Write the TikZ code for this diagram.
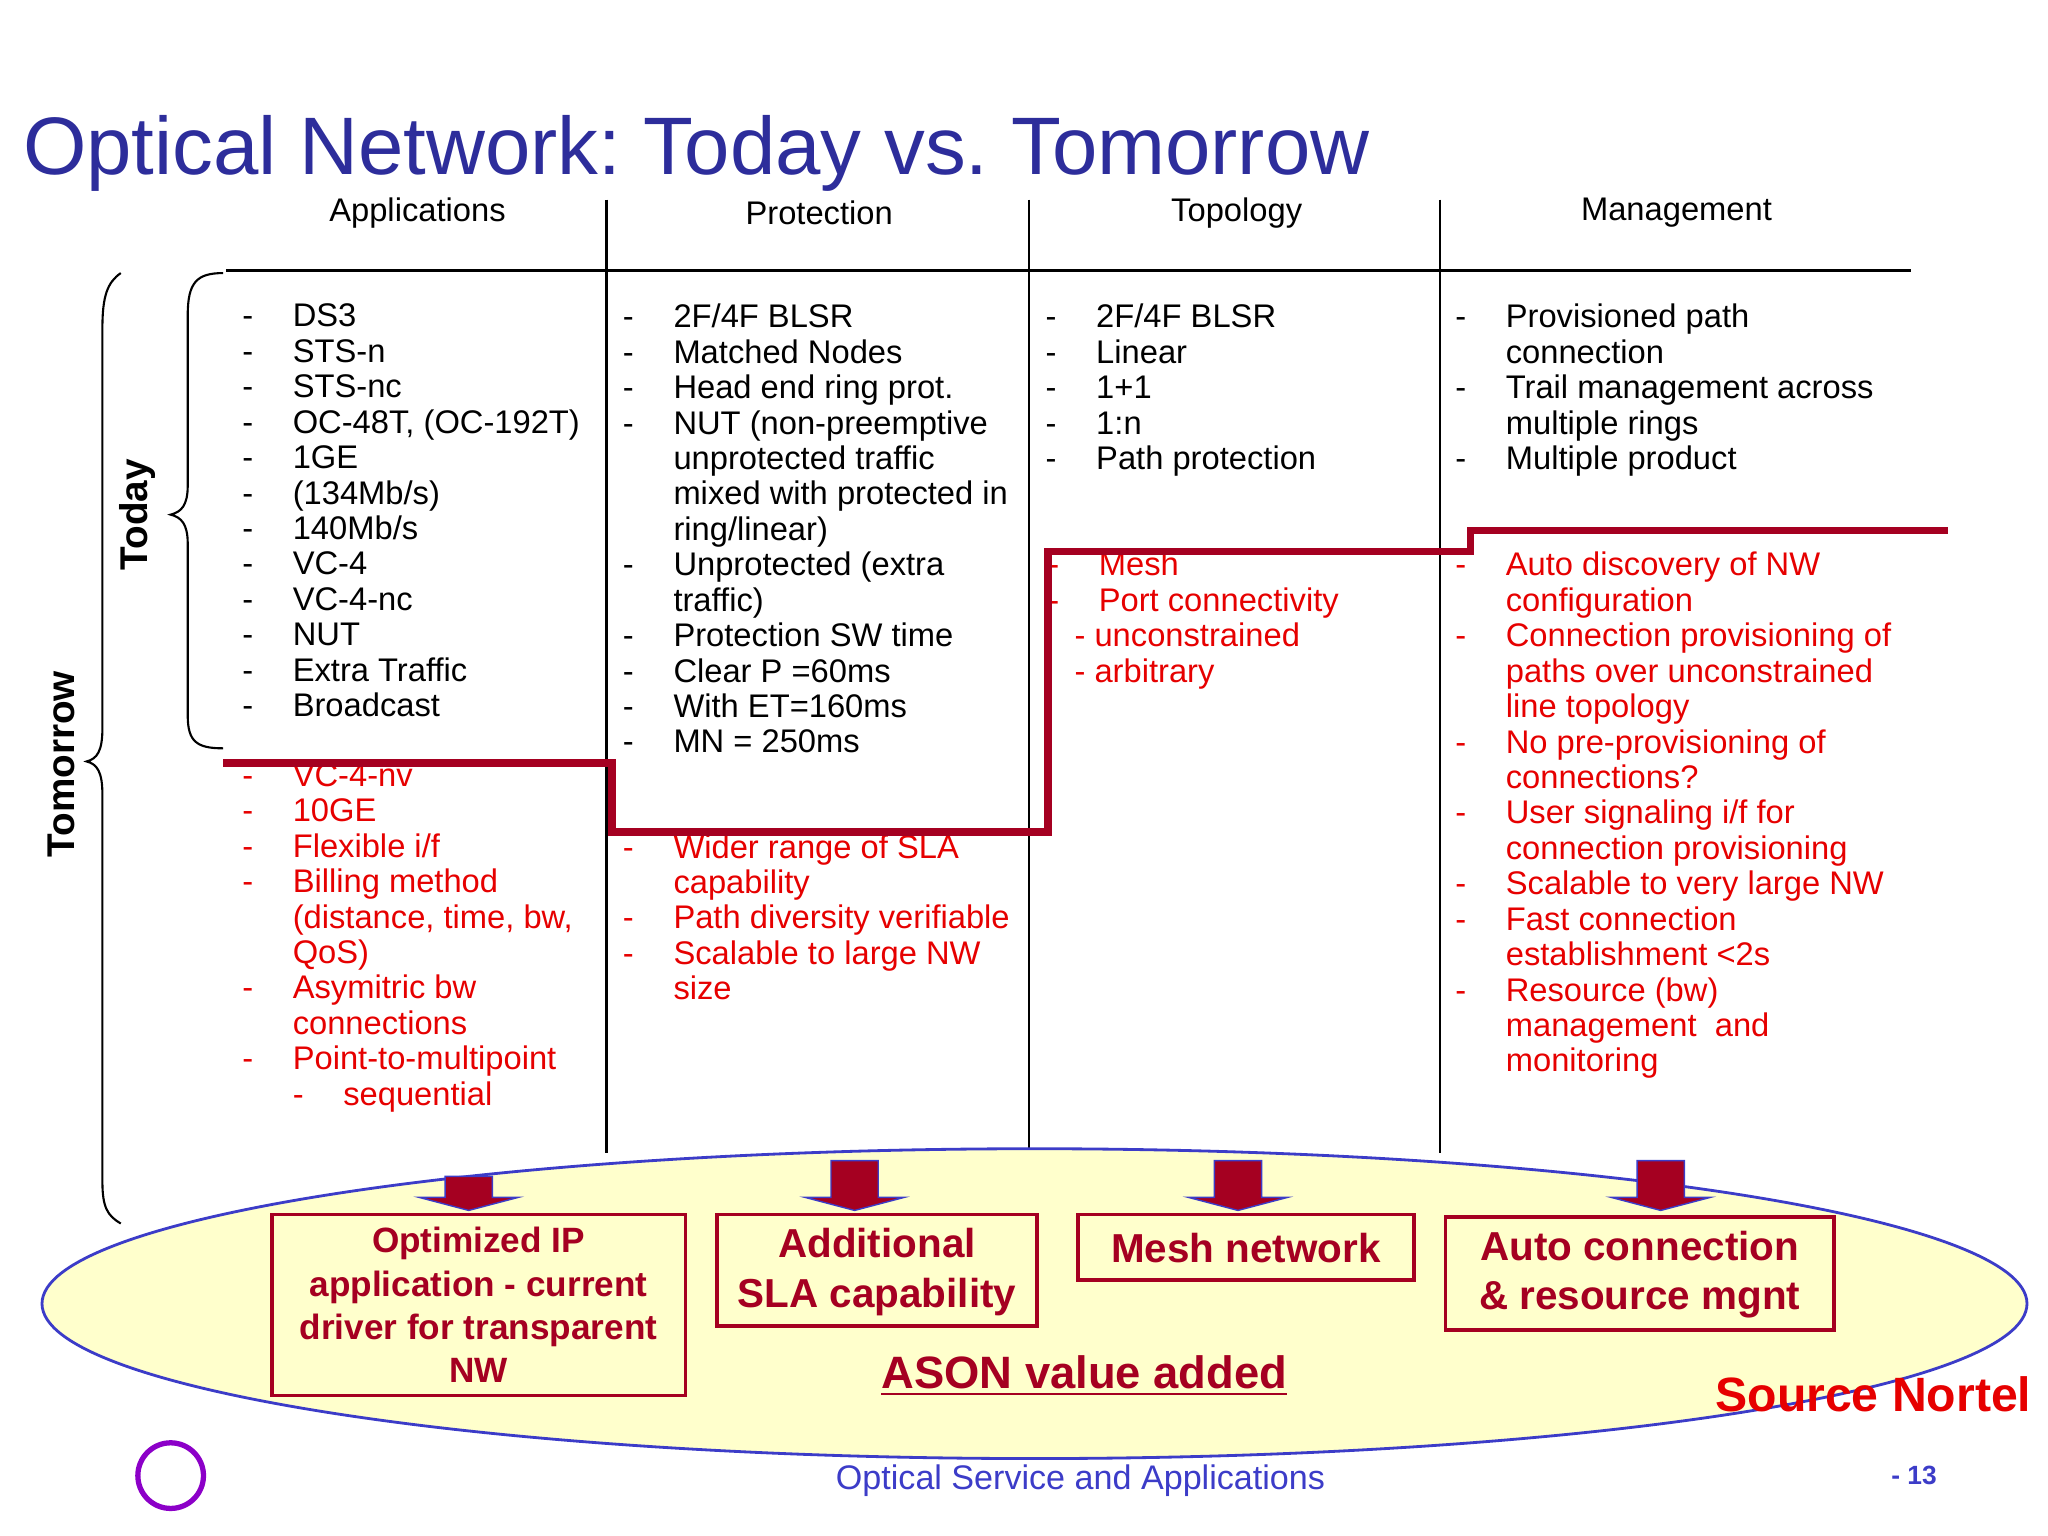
\documentclass[tikz,border=0pt]{standalone}
\usepackage{fontspec}
\setmainfont{Liberation Sans}
\frenchspacing
\definecolor{tred}{RGB}{230,0,0}
\definecolor{dred}{RGB}{165,0,33}
\definecolor{tblue}{RGB}{45,45,155}
\definecolor{ell}{RGB}{255,255,204}
\definecolor{eblue}{RGB}{60,60,200}
\newcommand\Dd{\makebox[0.505cm][l]{-}}
\newcommand\Ds{\hspace*{0.505cm}}
\tikzset{
 lst/.style={anchor=north west,inner sep=0pt,align=left,font=\fontsize{9.3}{10.08}\selectfont},
 hdr/.style={font=\fontsize{9.3}{11}\selectfont},
 boxt/.style={text=dred,align=center,inner sep=0pt},
}
\begin{document}
\begin{tikzpicture}[x=0.013128cm,y=-0.013128cm]
\useasboundingbox (0,0) rectangle (1560,1170);
% title
\node[anchor=west,inner sep=0pt,text=tblue,font=\fontsize{23.2}{27}\selectfont] (title) at (17,117) {Optical Network: Today vs. Tomorrow};
% headers
\node[hdr] (h1) at (318,162) {Applications};
\node[hdr] (h2) at (624,162) {Protection};
\node[hdr] (h3) at (942,162) {Topology};
\node[hdr] (h4) at (1277,162) {Management};
\draw[line width=0.6pt] (172,206) -- (1456,206);
\foreach \x in {462,784,1097} \draw[line width=0.6pt] (\x,152) -- (\x,878);
% ellipse
\draw[draw=eblue,fill=ell,line width=0.8pt] (788,993) ellipse [x radius=756,y radius=118];
% braces
\draw[line width=0.6pt] (170,208) .. controls (150,208) and (143,215) .. (143,240) -- (143,370) .. controls (143,385) and (138,390) .. (130,392) .. controls (138,394) and (143,399) .. (143,414) -- (143,545) .. controls (143,565) and (150,570) .. (170,570);
\draw[line width=0.6pt] (92,208) .. controls (82,215) and (78,225) .. (78,250) -- (78,555) .. controls (78,572) and (74,578) .. (66,580) .. controls (74,582) and (78,588) .. (78,605) -- (78,900) .. controls (78,920) and (82,926) .. (92,932);
\node[rotate=90,font=\fontsize{11}{13}\selectfont\bfseries] (today) at (105,392) {Today};
\node[rotate=90,font=\fontsize{11}{13}\selectfont\bfseries] (tomorrow) at (47,582) {Tomorrow};
% lists black
\node[lst] (a1) at (184,231) {\Dd DS3\\\Dd STS-n\\\Dd STS-nc\\\Dd OC-48T, (OC-192T)\\\Dd 1GE\\\Dd (134Mb/s)\\\Dd 140Mb/s\\\Dd VC-4\\\Dd VC-4-nc\\\Dd NUT\\\Dd Extra Traffic\\\Dd Broadcast};
\node[lst] (p1) at (474,231) {\Dd 2F/4F BLSR\\\Dd Matched Nodes\\\Dd Head end ring prot.\\\Dd NUT (non-preemptive\\\Ds unprotected traffic\\\Ds mixed with protected in\\\Ds ring/linear)\\\Dd Unprotected (extra\\\Ds traffic)\\\Dd Protection SW time\\\Dd Clear P =60ms\\\Dd With ET=160ms\\\Dd MN = 250ms};
\node[lst] (t1) at (796,231) {\Dd 2F/4F BLSR\\\Dd Linear\\\Dd 1+1\\\Dd 1:n\\\Dd Path protection};
\node[lst] (m1) at (1108,231) {\Dd Provisioned path\\\Ds connection\\\Dd Trail management across\\\Ds multiple rings\\\Dd Multiple product};
% lists red
\node[lst,text=tred] (a2) at (184,581) {\Dd VC-4-nv\\\Dd 10GE\\\Dd Flexible i/f\\\Dd Billing method\\\Ds (distance, time, bw,\\\Ds QoS)\\\Dd Asymitric bw\\\Ds connections\\\Dd Point-to-multipoint\\\Ds\Dd sequential};
\node[lst,text=tred] (p2) at (474,635) {\Dd Wider range of SLA\\\Ds capability\\\Dd Path diversity verifiable\\\Dd Scalable to large NW\\\Ds size};
\node[lst,text=tred] (t2) at (798,420) {\Dd Mesh\\\Dd Port connectivity};
\node[lst,text=tred] (t3) at (818,474) {- unconstrained\\- arbitrary};
\node[lst,text=tred] (m2) at (1108,420) {\Dd Auto discovery of NW\\\Ds configuration\\\Dd Connection provisioning of\\\Ds paths over unconstrained\\\Ds line topology\\\Dd No pre-provisioning of\\\Ds connections?\\\Dd User signaling i/f for\\\Ds connection provisioning\\\Dd Scalable to very large NW\\\Dd Fast connection\\\Ds establishment <2s\\\Dd Resource (bw)\\\Ds management\ \ and\\\Ds monitoring};
% step line
\draw[dred,line width=2.2pt] (170,581) -- (466,581) -- (466,634) -- (798,634) -- (798,420) -- (1120,420) -- (1120,404) -- (1484,404);
% arrows
\foreach \x/\t in {357/896,651/884,943/884,1265/884}{
 \fill[dred,draw=eblue,line width=0.4pt] (\x-18,\t) -- (\x+18,\t) -- (\x+18,912) -- (\x+38,912) -- (\x,922) -- (\x-38,912) -- (\x-18,912) -- cycle;}
% boxes
\draw[dred,line width=1pt] (207,925) rectangle (522,1063);
\node[boxt,font=\fontsize{10}{12.3}\selectfont\bfseries] (b1t) at (364.5,994) {Optimized IP\\application - current\\driver for transparent\\NW};
\draw[dred,line width=1pt] (546,925) rectangle (790,1010);
\node[boxt,font=\fontsize{11.5}{14}\selectfont\bfseries] (b2t) at (668,969) {Additional\\SLA capability};
\draw[dred,line width=1pt] (821,925) rectangle (1077,975);
\node[boxt,font=\fontsize{11.5}{14}\selectfont\bfseries] (b3t) at (949,951) {Mesh network};
\draw[dred,line width=1pt] (1101,927) rectangle (1397,1013);
\node[boxt,font=\fontsize{11.5}{14}\selectfont\bfseries] (b4t) at (1249,971) {Auto connection\\\& resource mgnt};
\node[text=dred,font=\fontsize{12.9}{15}\selectfont\bfseries] (ason) at (826,1048) {\underline{ASON value added}};
\node[text=tred,font=\fontsize{13.7}{16}\selectfont\bfseries] (src) at (1427,1062) {Source Nortel};
\node[text=eblue,font=\fontsize{9.7}{12}\selectfont] (foot) at (823,1128) {Optical Service and Applications};
\node[text=eblue,font=\fontsize{7.5}{9}\selectfont\bfseries] (pg) at (1458,1124) {- 13};
\draw[draw={rgb,255:red,140;green,0;blue,200},line width=1.5pt] (130,1124) circle (25);
\end{tikzpicture}
\end{document}
